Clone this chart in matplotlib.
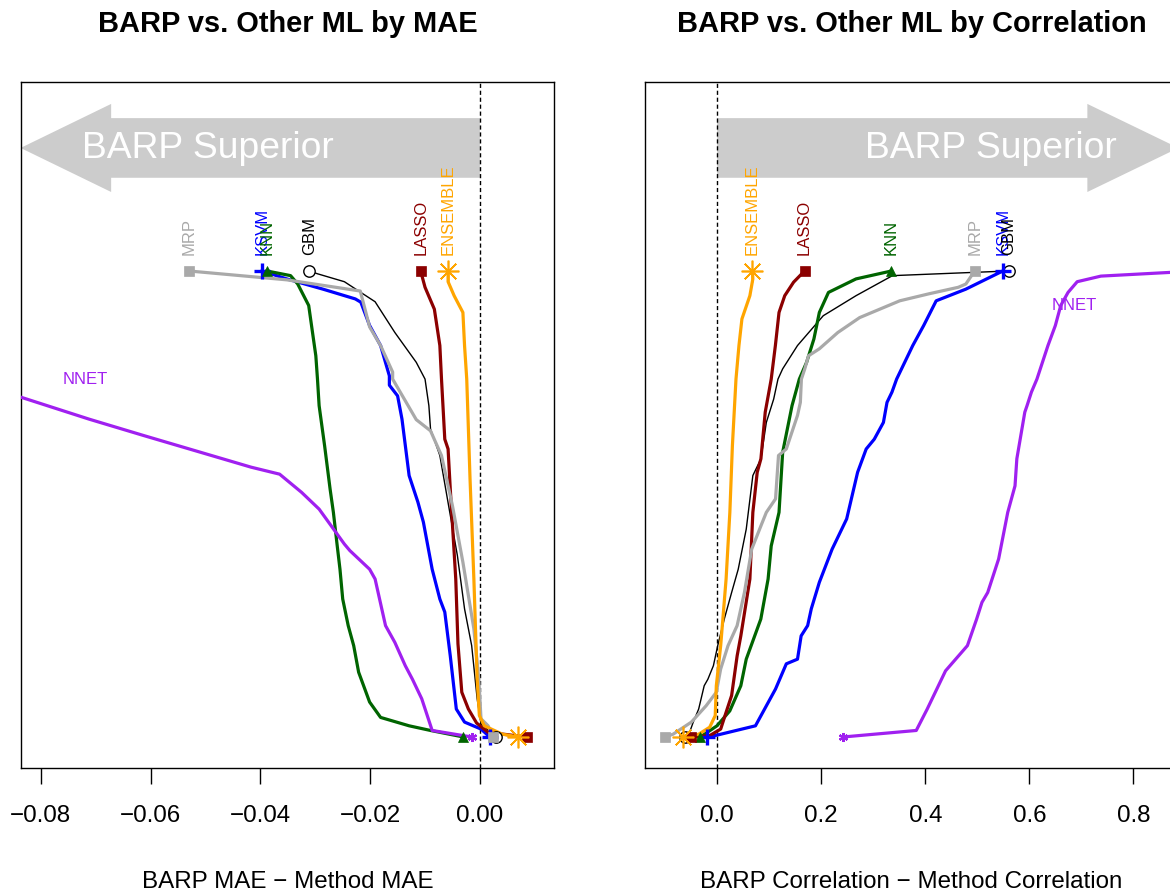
import matplotlib
matplotlib.use("Agg")
import matplotlib.pyplot as plt
from matplotlib.patches import Polygon

plt.rcParams['font.family'] = ['Liberation Sans', 'DejaVu Sans']
plt.rcParams['axes.unicode_minus'] = True

# Method names and colours
methods = ["MRP", "KSVM", "KNN", "GBM", "LASSO", "ENSEMBLE", "NNET"]

# BARP MAE - method MAE, sorted curves (top = 1, bottom = 0)
mrp_mae_x = [-0.0530, -0.0352, -0.0218, -0.0201, -0.0181, -0.0159, -0.0159, -0.0116, -0.0090, -0.0070,
             -0.0050, -0.0031, -0.0011, -0.0002, 0.0002, 0.0015, 0.0024]
mrp_mae_y = [1.0, 0.981, 0.957, 0.880, 0.840, 0.783, 0.768, 0.681, 0.657, 0.604,
             0.496, 0.375, 0.232, 0.124, 0.039, 0.024, 0.0]
ksvm_mae_x = [-0.0397, -0.0352, -0.0286, -0.0227, -0.0217, -0.0201, -0.0181, -0.0165, -0.0165, -0.0150,
              -0.0142, -0.0129, -0.0113, -0.0103, -0.0087, -0.0073, -0.0064, -0.0054, -0.0043, -0.0028,
              0.0002, 0.0018]
ksvm_mae_y = [1.0, 0.983, 0.961, 0.940, 0.933, 0.883, 0.840, 0.775, 0.755, 0.732,
              0.682, 0.561, 0.504, 0.461, 0.360, 0.296, 0.268, 0.174, 0.060, 0.032,
              0.017, 0.0]
knn_mae_x = [-0.0388, -0.0345, -0.0332, -0.0312, -0.0306, -0.0299, -0.0296, -0.0293, -0.0283, -0.0273,
             -0.0267, -0.0260, -0.0255, -0.0250, -0.0240, -0.0230, -0.0221, -0.0201, -0.0181, -0.0129,
             -0.0090, -0.0030]
knn_mae_y = [1.0, 0.990, 0.972, 0.926, 0.876, 0.818, 0.768, 0.711, 0.625, 0.532,
             0.482, 0.410, 0.360, 0.296, 0.239, 0.196, 0.139, 0.075, 0.042, 0.024,
             0.014, 0.0]
gbm_mae_x = [-0.0311, -0.0296, -0.0247, -0.0191, -0.0155, -0.0116, -0.0100, -0.0093, -0.0090, -0.0073,
             -0.0057, -0.0041, -0.0028, -0.0015, -0.0005, 0.0002, 0.0030]
gbm_mae_y = [1.0, 0.994, 0.977, 0.934, 0.868, 0.804, 0.768, 0.711, 0.661, 0.604,
             0.496, 0.389, 0.275, 0.196, 0.082, 0.028, 0.0]
lasso_mae_x = [-0.0108, -0.0100, -0.0083, -0.0073, -0.0070, -0.0064, -0.0058, -0.0054, -0.0044, -0.0040,
               -0.0033, -0.0021, -0.0006, 0.0015, 0.0085]
lasso_mae_y = [1.0, 0.965, 0.918, 0.840, 0.768, 0.639, 0.618, 0.532, 0.339, 0.200,
               0.096, 0.060, 0.030, 0.010, 0.0]
ens_mae_x = [-0.0058, -0.0058, -0.0047, -0.0031, -0.0028, -0.0024, -0.0018, -0.0011, -0.0005, -0.0001,
             0.0008, 0.0041, 0.0070]
ens_mae_y = [1.0, 0.977, 0.947, 0.911, 0.840, 0.768, 0.554, 0.339, 0.124, 0.046,
             0.024, 0.006, 0.0]
nnet_mae_x = [-0.0900, -0.0836, -0.0712, -0.0613, -0.0417, -0.0365, -0.0325, -0.0293, -0.0247, -0.0237,
              -0.0201, -0.0191, -0.0172, -0.0155, -0.0136, -0.0123, -0.0106, -0.0087, -0.0015]
nnet_mae_y = [0.752, 0.729, 0.682, 0.647, 0.579, 0.564, 0.525, 0.489, 0.414, 0.400,
              0.360, 0.339, 0.239, 0.203, 0.153, 0.124, 0.082, 0.014, 0.0]

# BARP correlation - method correlation
mrp_cor_x = [0.495, 0.478, 0.4635, 0.407, 0.351, 0.274, 0.232, 0.1965, 0.1756, 0.1685,
             0.162, 0.160, 0.1545, 0.133, 0.118, 0.1123, 0.0946, 0.0842, 0.0665, 0.0525,
             0.0385, 0.021, 0.0069, -0.0015, -0.0211, -0.0494, -0.0846, -0.100]
mrp_cor_y = [1.0, 0.972, 0.965, 0.951, 0.936, 0.900, 0.868, 0.833, 0.818, 0.790,
             0.768, 0.718, 0.690, 0.618, 0.604, 0.511, 0.482, 0.453, 0.403, 0.310,
             0.239, 0.196, 0.146, 0.096, 0.067, 0.032, 0.006, 0.0]
ksvm_cor_x = [0.549, 0.478, 0.421, 0.397, 0.376, 0.345, 0.336, 0.3265, 0.3196, 0.302,
              0.2865, 0.270, 0.249, 0.221, 0.1965, 0.181, 0.174, 0.1615, 0.1545, 0.133,
              0.1123, 0.0737, -0.0002, -0.0186]
ksvm_cor_y = [1.0, 0.961, 0.936, 0.883, 0.840, 0.768, 0.740, 0.718, 0.675, 0.639,
              0.618, 0.568, 0.468, 0.403, 0.332, 0.275, 0.239, 0.217, 0.167, 0.157,
              0.103, 0.024, 0.004, 0.0]
knn_cor_x = [0.335, 0.267, 0.214, 0.1965, 0.186, 0.172, 0.158, 0.144, 0.126, 0.119,
             0.104, 0.098, 0.084, 0.056, 0.0456, 0.0244, -0.0002, -0.0283, -0.033]
knn_cor_y = [1.0, 0.983, 0.954, 0.911, 0.854, 0.804, 0.768, 0.711, 0.611, 0.482,
             0.410, 0.339, 0.253, 0.167, 0.110, 0.056, 0.024, 0.003, 0.0]
gbm_cor_x = [0.560, 0.337, 0.267, 0.204, 0.1545, 0.126, 0.117, 0.1087, 0.0946, 0.0842,
             0.0687, 0.056, 0.0406, 0.0279, 0.0138, 0.0012, -0.0071, -0.0177, -0.0248, -0.0354,
             -0.0458, -0.0529, -0.062]
gbm_cor_y = [1.0, 0.990, 0.947, 0.904, 0.840, 0.790, 0.768, 0.725, 0.675, 0.597,
             0.561, 0.446, 0.360, 0.310, 0.253, 0.196, 0.153, 0.124, 0.110, 0.060,
             0.032, 0.010, 0.0]
lasso_cor_x = [0.168, 0.147, 0.130, 0.119, 0.112, 0.104, 0.0925, 0.0842, 0.0771, 0.0687,
               0.063, 0.0456, 0.0385, 0.0279, 0.0173, 0.0069, -0.0142, -0.050]
lasso_cor_y = [1.0, 0.976, 0.947, 0.911, 0.840, 0.768, 0.697, 0.597, 0.568, 0.482,
               0.339, 0.217, 0.174, 0.089, 0.053, 0.017, 0.003, 0.0]
ens_cor_x = [0.068, 0.0687, 0.063, 0.0477, 0.042, 0.0363, 0.0294, 0.0245, 0.0173, 0.0069,
             -0.0015, -0.0036, -0.0142, -0.0354, -0.065]
ens_cor_y = [1.0, 0.983, 0.947, 0.897, 0.840, 0.768, 0.625, 0.482, 0.339, 0.196,
             0.110, 0.046, 0.021, 0.006, 0.0]
nnet_cor_x = [0.930, 0.871, 0.7375, 0.692, 0.6744, 0.6604, 0.650, 0.6358, 0.6146, 0.604,
              0.5956, 0.5913, 0.576, 0.5725, 0.5585, 0.541, 0.520, 0.509, 0.4987, 0.481,
              0.439, 0.4038, 0.3827, 0.242]
nnet_cor_y = [1.0, 0.997, 0.989, 0.977, 0.954, 0.926, 0.883, 0.840, 0.768, 0.740,
              0.711, 0.697, 0.597, 0.539, 0.482, 0.382, 0.310, 0.289, 0.253, 0.196,
              0.142, 0.060, 0.014, 0.0]

mae_ticks = [-0.08, -0.06, -0.04, -0.02, 0.00]
mae_tick_labels = ["\u22120.08", "\u22120.06", "\u22120.04", "\u22120.02", "0.00"]
cor_ticks = [0.0, 0.2, 0.4, 0.6, 0.8]
cor_tick_labels = ["0.0", "0.2", "0.4", "0.6", "0.8"]

# line style per method: colour, marker, line width, marker size, marker edge width, filled
styles = {
    "MRP":      ("darkgray", "s", 2.3, 6.7, 0.5, True),
    "KSVM":     ("#0000FF", "+", 2.3, 11.5, 2.4, True),
    "KNN":      ("#006400", "^", 2.3, 7.0, 0.5, True),
    "GBM":      ("black", "o", 1.0, 8.2, 1.0, False),
    "LASSO":    ("#8B0000", "s", 2.3, 6.7, 0.5, True),
    "ENSEMBLE": ("#FFA500", (8, 2, 0), 2.3, 15.6, 1.2, True),
    "NNET":     ("#A020F0", (6, 2, 0), 2.3, 6.5, 1.6, True),
}
draw_order = ["GBM", "KSVM", "KNN", "LASSO", "NNET", "MRP", "ENSEMBLE"]


def draw_curve(ax, x, y, name):
    col, mk, lw, ms, mew, filled = styles[name]
    ax.plot(x, y, '-', color=col, lw=lw, solid_joinstyle='round', zorder=3)
    ax.plot([x[0], x[-1]], [y[0], y[-1]], linestyle='none', marker=mk, ms=ms,
            mew=mew, mec=col, mfc=col if filled else 'white', zorder=4)


def draw_arrow(ax, x_tip, head_len, text, text_x):
    # big grey "BARP Superior" arrow starting at zero
    y_mid, body_half, head_half = 1.264, 0.064, 0.0945
    d = 1 if x_tip > 0 else -1
    xb = x_tip - d * head_len
    pts = [(0, y_mid + body_half), (xb, y_mid + body_half), (xb, y_mid + head_half),
           (x_tip, y_mid), (xb, y_mid - head_half), (xb, y_mid - body_half),
           (0, y_mid - body_half)]
    ax.add_patch(Polygon(pts, closed=True, facecolor='#CCCCCC', edgecolor='none', zorder=1))
    ax.text(text_x, 1.244, text, color='white', fontsize=26.8, ha='center', va='baseline', zorder=2)


def setup_panel(ax, xlim, ticks, labels):
    ax.set_xlim(*xlim)
    ax.set_ylim(-0.0665, 1.4056)
    ax.set_yticks([])
    ax.set_xticks(ticks)
    ax.set_xticklabels(labels)
    ax.tick_params(axis='x', length=11.5, width=1.0, pad=14.5, labelsize=17.4, direction='out')
    for s in ax.spines.values():
        s.set_linewidth(1.0)
    ax.axvline(0, color='black', lw=1.0, dashes=(3, 2), zorder=2)


def draw_panel(ax, curves, nnet_label_pos):
    for name in draw_order:
        x, y = curves[name]
        draw_curve(ax, x, y, name)
    for name in methods[:-1]:
        x, y = curves[name]
        ax.annotate(name, (x[0], y[0]), xytext=(0, 12), textcoords='offset points',
                    rotation=90, rotation_mode='anchor', ha='left', va='center',
                    fontsize=12, color=styles[name][0], zorder=5)
    ax.text(nnet_label_pos[0], nnet_label_pos[1], "NNET", fontsize=12,
            color=styles["NNET"][0], ha='center', va='center', zorder=5)


fig = plt.figure(figsize=(11.7, 8.95), dpi=100)
ax1 = fig.add_axes([0.0176, 0.1408, 0.4559, 0.7665])
ax2 = fig.add_axes([0.5513, 0.1408, 0.4559, 0.7665])

# Left: MAE
setup_panel(ax1, (-0.0837, 0.0135), mae_ticks, mae_tick_labels)
draw_arrow(ax1, -0.0837, 0.0165, "BARP Superior", -0.0495)
draw_panel(ax1, {
    "MRP": (mrp_mae_x, mrp_mae_y), "KSVM": (ksvm_mae_x, ksvm_mae_y),
    "KNN": (knn_mae_x, knn_mae_y), "GBM": (gbm_mae_x, gbm_mae_y),
    "LASSO": (lasso_mae_x, lasso_mae_y), "ENSEMBLE": (ens_mae_x, ens_mae_y),
    "NNET": (nnet_mae_x, nnet_mae_y)}, (-0.0719, 0.770))

# Right: correlation
setup_panel(ax2, (-0.1385, 0.8865), cor_ticks, cor_tick_labels)
draw_arrow(ax2, 0.8865, 0.175, "BARP Superior", 0.527)
draw_panel(ax2, {
    "MRP": (mrp_cor_x, mrp_cor_y), "KSVM": (ksvm_cor_x, ksvm_cor_y),
    "KNN": (knn_cor_x, knn_cor_y), "GBM": (gbm_cor_x, gbm_cor_y),
    "LASSO": (lasso_cor_x, lasso_cor_y), "ENSEMBLE": (ens_cor_x, ens_cor_y),
    "NNET": (nnet_cor_x, nnet_cor_y)}, (0.6865, 0.929))

# Titles and axis labels
fig.text(0.2456, 1 - 32.3 / 895, "BARP vs. Other ML by MAE", fontsize=20.9,
         fontweight='bold', ha='center', va='baseline')
fig.text(0.779, 1 - 32.3 / 895, "BARP vs. Other ML by Correlation", fontsize=20.9,
         fontweight='bold', ha='center', va='baseline')
fig.text(0.2456, 1 - 887.7 / 895, "BARP MAE \u2212 Method MAE", fontsize=17.4,
         ha='center', va='baseline')
fig.text(0.779, 1 - 887.7 / 895, "BARP Correlation \u2212 Method Correlation", fontsize=17.4,
         ha='center', va='baseline')

fig.savefig("out.png", dpi=100)
